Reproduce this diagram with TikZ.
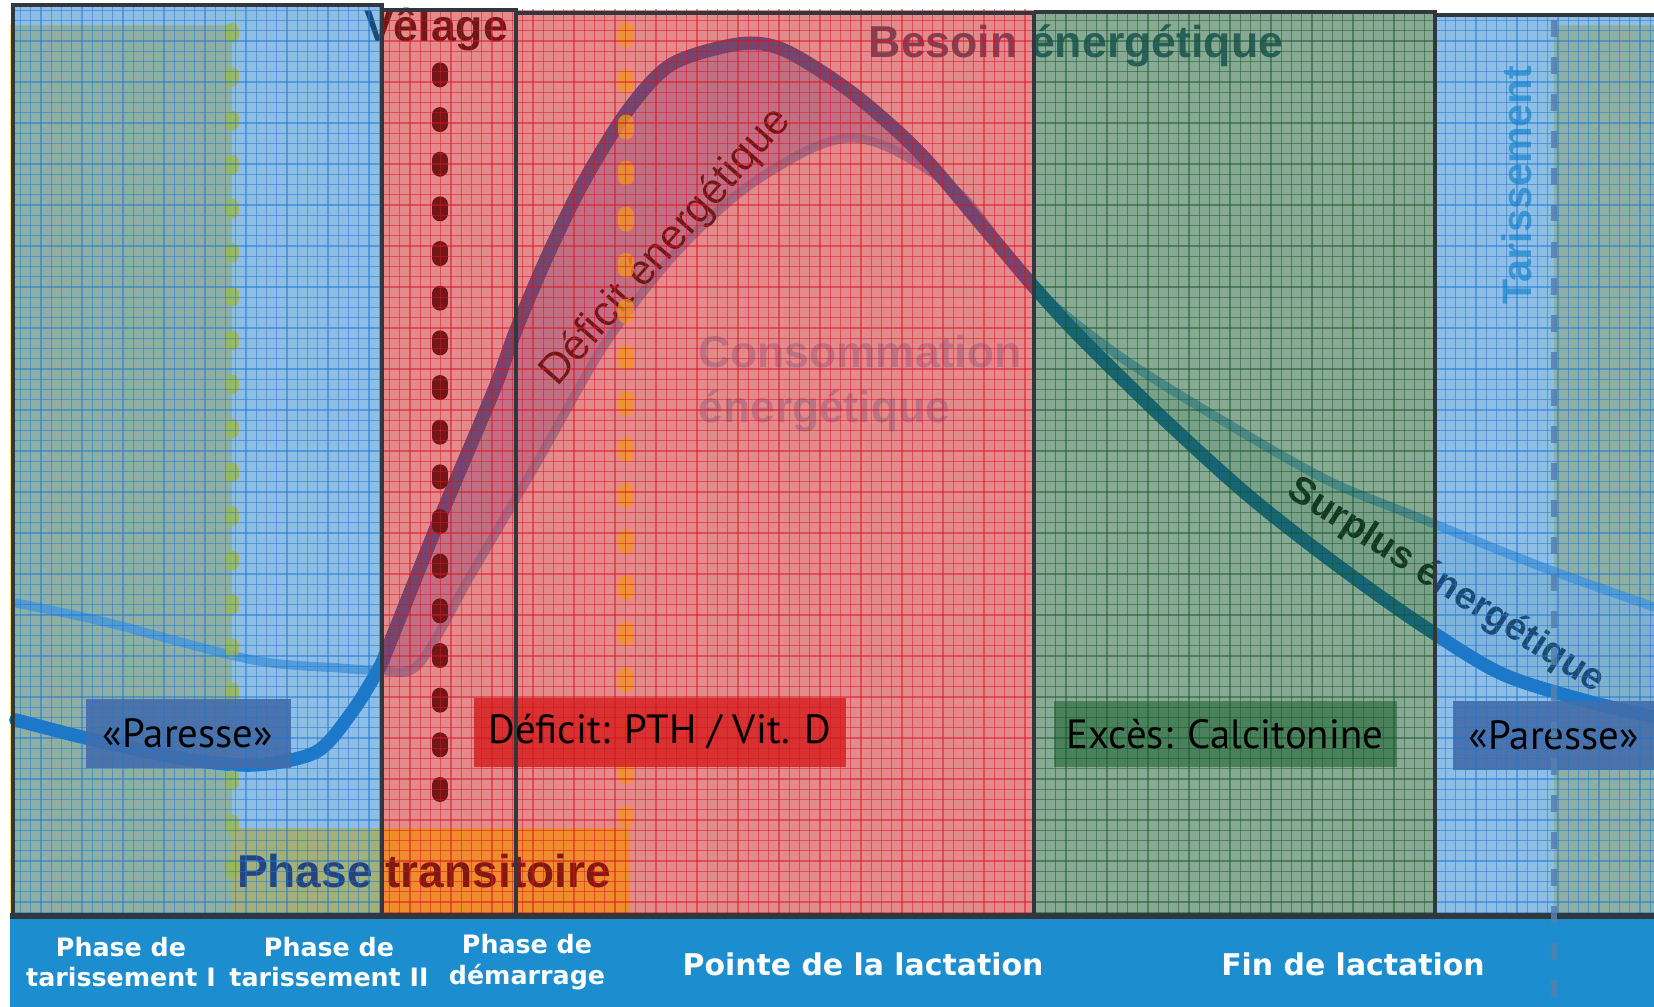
\documentclass[tikz,border=0pt]{standalone}
\usepackage{fontspec}
\setmainfont{Liberation Sans}
\newfontfamily\boxfont{PT Sans}
\newfontfamily\bandfont{DejaVu Sans}

\definecolor{drybase}{RGB}{255,224,112}
\definecolor{veilblue}{RGB}{50,135,210}
\definecolor{veilred}{RGB}{208,42,46}
\definecolor{veilgreen}{RGB}{39,100,60}
\definecolor{needblue}{RGB}{5,102,188}
\definecolor{useblue}{RGB}{100,170,230}
\definecolor{gapfill}{RGB}{160,180,235}
\definecolor{surplusfill}{RGB}{215,230,225}
\definecolor{besointxt}{RGB}{42,90,128}
\definecolor{consotxt}{RGB}{165,205,240}
\definecolor{taritxt}{RGB}{72,169,221}
\definecolor{transolive}{RGB}{168,174,102}
\definecolor{transorange}{RGB}{242,140,30}
\definecolor{greendot}{RGB}{155,185,75}
\definecolor{orangedot}{RGB}{245,150,30}
\definecolor{paressebox}{RGB}{70,108,168}
\definecolor{deficitbox}{RGB}{214,40,40}
\definecolor{excesbox}{RGB}{68,124,86}
\definecolor{gridblue}{RGB}{28,120,210}
\definecolor{gridred}{RGB}{216,20,30}
\definecolor{gridgreen}{RGB}{20,90,42}
\definecolor{bandblue}{RGB}{28,142,208}
\definecolor{panelline}{RGB}{48,56,62}
\definecolor{dashblue}{RGB}{85,127,176}
\definecolor{phaseblue}{RGB}{37,67,127}
\definecolor{phasered}{RGB}{126,26,18}

\tikzset{
  veil/.style={fill=#1, fill opacity=0.55},
  gridline/.style={draw=#1, line width=0.35pt, draw opacity=0.5},
  panelborder/.style={draw=panelline, line width=1pt},
  needline/.style={draw=needblue, line width=3.8pt, line cap=round},
  useline/.style={draw=useblue, line width=2.6pt, draw opacity=0.85, line cap=round},
  gapzone/.style={fill=#1, fill opacity=0.8},
  bigtext/.style={font=\fontsize{12.7}{15}\selectfont\bfseries, inner sep=0pt},
  tagtext/.style={font=\boxfont\fontsize{11.6}{13}\selectfont, text=black, inner sep=0pt},
  phasetext/.style={font=\bandfont\bfseries\fontsize{7.2}{8.6}\selectfont, text=white, align=center, inner sep=0pt},
  stagetext/.style={font=\bandfont\bfseries\fontsize{8.5}{10}\selectfont, text=white, inner sep=0pt},
  dotline/.style={draw=#1, line cap=round}
}

\newcommand{\panelgrid}[5]{%
  \begin{scope}
    \clip (#1,#2) rectangle (#3,#4);
    \foreach \gx in {0,10.25,...,1660} \draw[gridline=#5] (\gx,0) -- (\gx,1007);
    \foreach \gy in {0,10.25,...,1010} \draw[gridline=#5] (0,\gy) -- (1654,\gy);
  \end{scope}}

\begin{document}
\begin{tikzpicture}[x=0.01cm, y=-0.01cm]
  \useasboundingbox (0,0) rectangle (1654,1007);
  \fill[white] (0,0) rectangle (1654,1007);
  \fill[drybase] (10,25) rectangle (232,915);
  \fill[drybase] (1554,25) rectangle (1654,915);

  \fill[gapzone=gapfill] plot[smooth] coordinates {(378,670) (387,650) (440,518) (494,390) (516,330) (547,257) (583,183) (628,110) (672,64) (739,44) (784,50) (851,92) (918,151) (985,229) (1034,287)}
    -- plot[smooth] coordinates {(1034,287) (963,197) (896,151) (851,138) (806,151) (739,193) (672,257) (605,344) (539,459) (472,573) (418,665) (378,670)} -- cycle;
  \fill[gapzone=surplusfill] plot[smooth] coordinates {(1034,287) (1083,340) (1167,422) (1250,497) (1333,562) (1417,622) (1500,673) (1583,700) (1654,717)}
    -- plot[smooth] coordinates {(1654,607) (1542,567) (1417,517) (1333,483) (1250,437) (1125,360) (1034,287)} -- cycle;

  \draw[useline] plot[smooth] coordinates {(16,603) (105,622) (253,660) (340,668) (378,670) (418,665) (472,573) (539,459) (605,344) (672,257) (739,193) (806,151) (851,138) (896,151) (963,197) (1034,287) (1125,360) (1250,437) (1333,483) (1417,517) (1542,567) (1654,607)};
  \draw[needline] plot[smooth] coordinates {(16,720) (86,738) (180,758) (253,765) (316,752) (352,712) (378,670) (387,650) (440,518) (494,390) (516,330) (547,257) (583,183) (628,110) (672,64) (739,44) (784,50) (851,92) (918,151) (985,229) (1034,287) (1083,340) (1167,422) (1250,497) (1333,562) (1417,622) (1500,673) (1583,700) (1654,717)};

  \draw[dotline=black, line width=4.3pt, dash pattern=on 2.8pt off 9.9pt] (440,70) -- (440,818);

  \node[bigtext, text=black] (velage) at (436,30) {Vêlage};
  \node[bigtext, text=besointxt] (besoin) at (1076,46) {Besoin énergétique};
  \node[bigtext, text=consotxt, anchor=west, align=left, font=\fontsize{12.6}{15.6}\selectfont\bfseries] (conso) at (698,384) {Consommation\\énergétique};
  \node[text=black, rotate=48.6, font=\fontsize{12.1}{14}\selectfont, inner sep=0pt] (deficit) at (666,247) {Déficit énergétique};
  \node[text=black, rotate=-32.5, font=\fontsize{10.8}{13}\selectfont\bfseries, inner sep=0pt] (surplus) at (1446,586) {Surplus énergétique};
  \node[text=taritxt, rotate=90, font=\fontsize{11.7}{14}\selectfont\bfseries, inner sep=0pt] (tarissement) at (1517,185) {Tarissement};

  \fill[veil=veilblue] (13,5) rectangle (382,915);
  \fill[veil=veilred] (382,10) rectangle (516,915);
  \fill[veil=veilred] (516,13) rectangle (1034,915);
  \fill[veil=veilgreen] (1034,12) rectangle (1435,915);
  \fill[veil=veilblue] (1435,15) rectangle (1654,915);

  \fill[transolive, fill opacity=0.85] (232,828) rectangle (382,913);
  \fill[transorange, fill opacity=0.85] (382,828) rectangle (630,913);

  \draw[dotline=greendot, draw opacity=0.75, line width=4pt, dash pattern=on 1.6pt off 10.9pt] (232,30) -- (232,905);
  \draw[dotline=orangedot, draw opacity=0.75, line width=4.3pt, dash pattern=on 2.8pt off 10.3pt] (626,30) -- (626,820);

  \fill[paressebox, fill opacity=0.9] (86,699) rectangle (291,768);
  \fill[deficitbox, fill opacity=0.9] (474,698) rectangle (846,767);
  \fill[excesbox, fill opacity=0.9] (1054,701) rectangle (1397,767);
  \fill[paressebox, fill opacity=0.9] (1453,701) rectangle (1654,770);

  \node[bigtext, font=\fontsize{13.1}{15}\selectfont\bfseries] (transit) at (424,871) {\textcolor{phaseblue}{Phase} \textcolor{phasered}{transitoire}};

  \panelgrid{13}{5}{382}{915}{gridblue}
  \panelgrid{382}{10}{1034}{915}{gridred}
  \panelgrid{1034}{12}{1435}{915}{gridgreen}
  \panelgrid{1435}{15}{1654}{915}{gridblue}

  \draw[panelborder] (13,915) -- (13,5) -- (382,5) -- (382,915);
  \draw[panelborder] (382,10) -- (516,10) -- (516,915);
  \draw[panelborder] (516,13) -- (1034,13) -- (1034,915);
  \draw[panelborder] (1034,12) -- (1435,12) -- (1435,915);
  \draw[panelborder] (1435,15) -- (1654,15);

  \node[tagtext] (paresseL) at (188,733) {«Paresse»};
  \node[tagtext] (deficitPTH) at (660,732) {Déficit: PTH / Vit. D};
  \node[tagtext] (exces) at (1225,734) {Excès: Calcitonine};
  \node[tagtext] (paresseR) at (1554,735) {«Paresse»};

  \fill[bandblue] (10,916) rectangle (1654,1007);
  \draw[panelline, line width=1.6pt] (10,916) -- (1654,916);
  \node[phasetext] (tarI) at (121,962) {Phase de\\tarissement I};
  \node[phasetext] (tarII) at (329,962) {Phase de\\tarissement II};
  \node[phasetext] (demarrage) at (527,962) {Phase de\\démarrage};
  \node[stagetext] (pointe) at (863,964) {Pointe de la lactation};
  \node[stagetext] (fin) at (1353,964) {Fin de lactation};

  \draw[dashblue, draw opacity=0.85, line width=1.5pt, dash pattern=on 4.8pt off 5.7pt] (1554,20) -- (1554,1007);
\end{tikzpicture}
\end{document}
